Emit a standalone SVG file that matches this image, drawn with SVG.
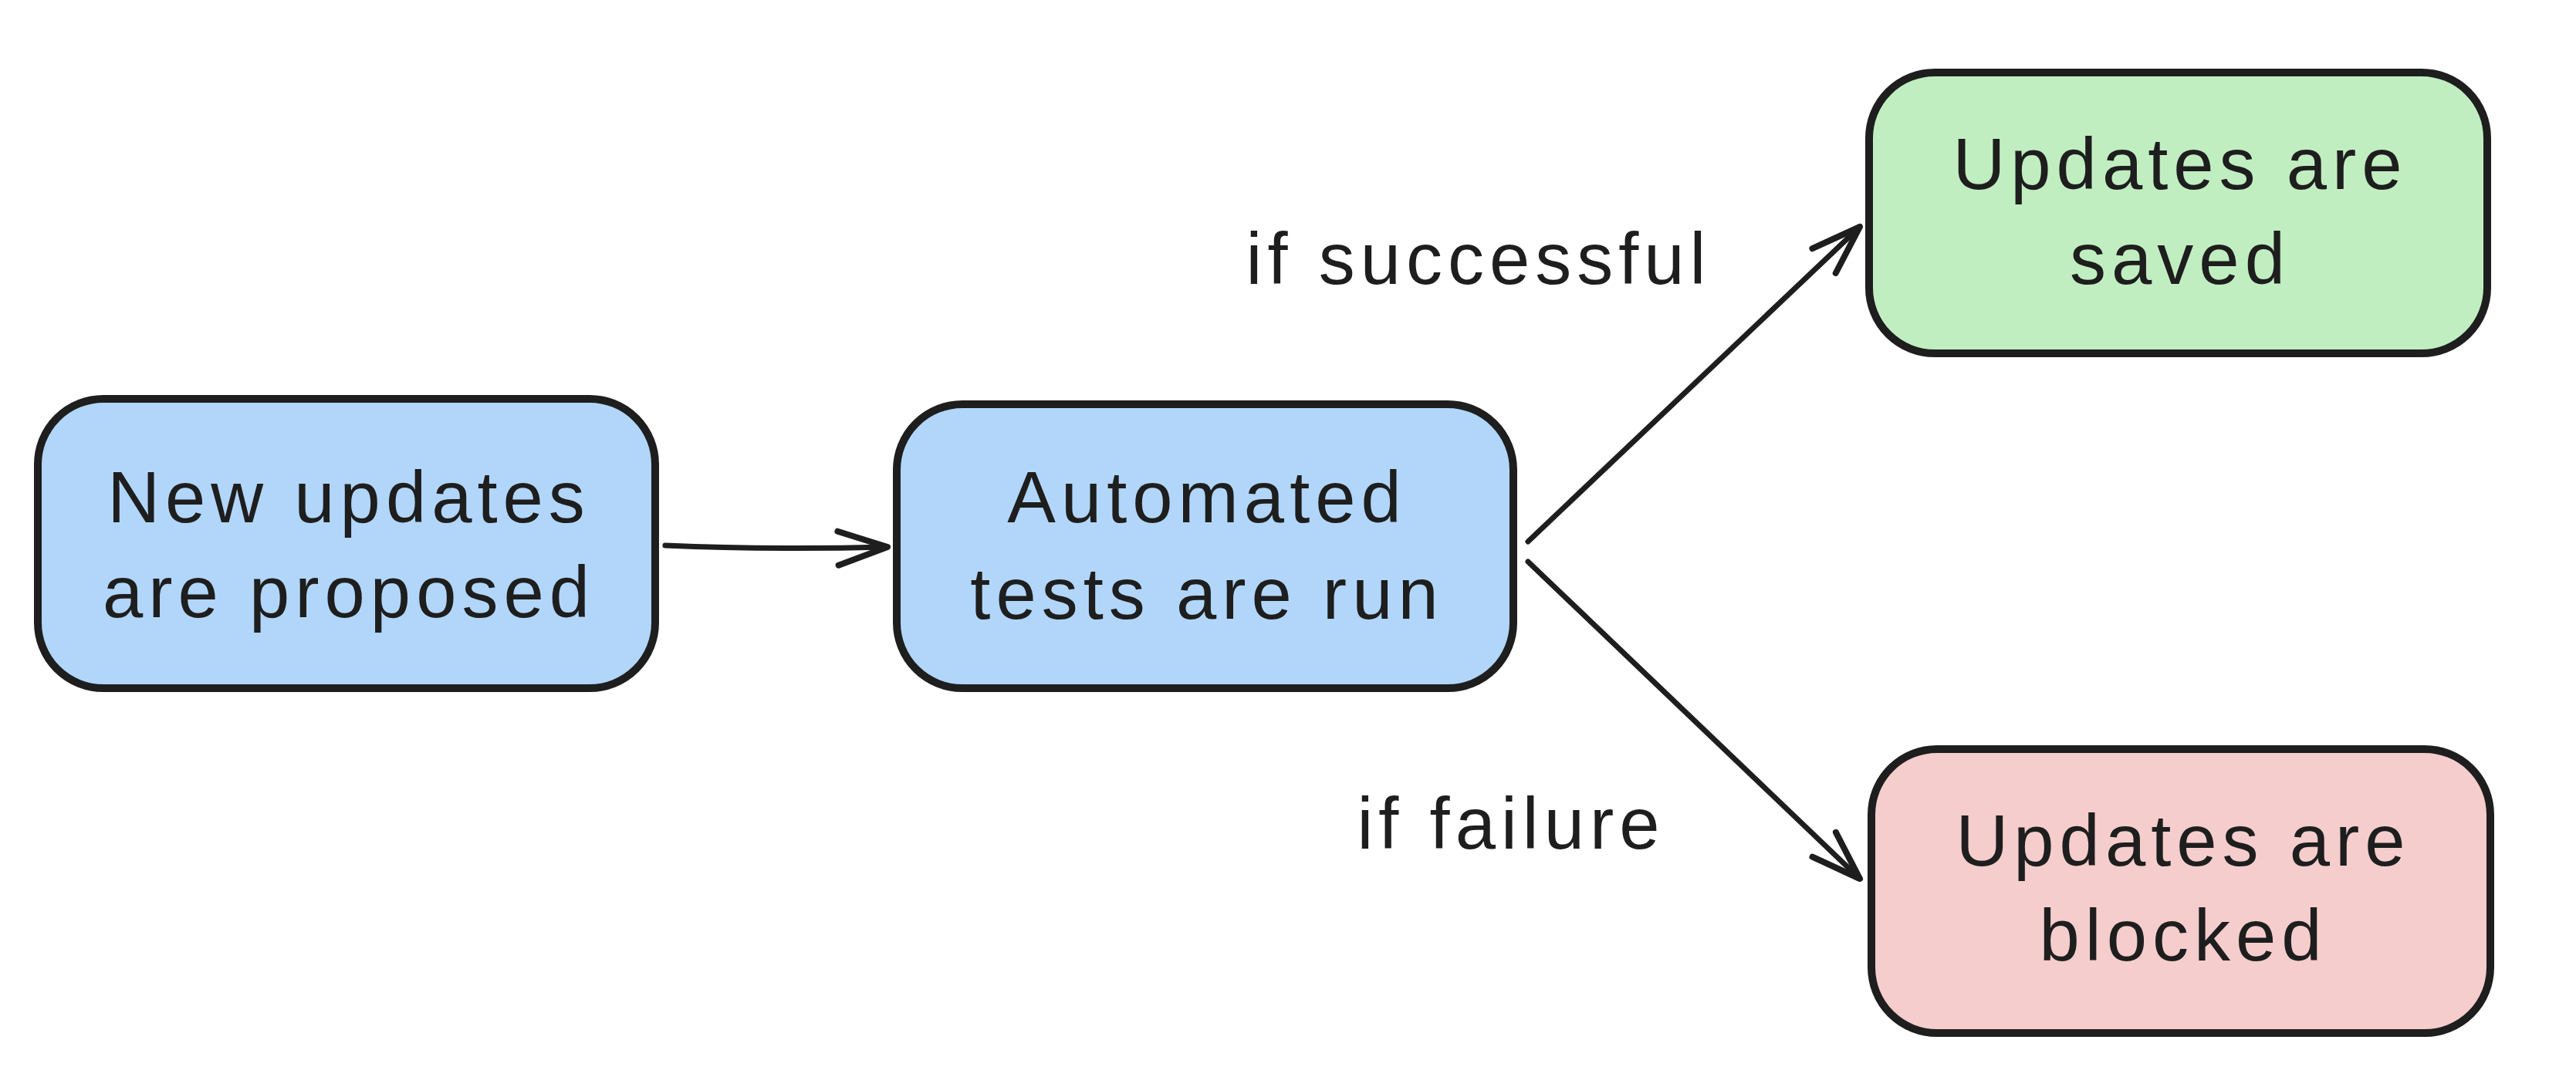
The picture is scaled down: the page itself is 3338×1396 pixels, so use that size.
<svg xmlns="http://www.w3.org/2000/svg" width="3338" height="1396" viewBox="0 0 3338 1396">
<style>
.box{stroke:#1e1e1e;stroke-width:10;stroke-linejoin:round}
.blue{fill:#b1d6fa}
.green{fill:#c1eec1}
.red{fill:#f4cdcc}
.t{font-family:"Liberation Sans",Arial,sans-serif;font-size:94px;letter-spacing:7px;fill:#1e1e1e;text-anchor:middle}
.edge{fill:none;stroke:#1e1e1e;stroke-width:7;stroke-linecap:round}
</style>
<defs>
<marker id="ah" markerUnits="userSpaceOnUse" viewBox="-5 -5 76 58" markerWidth="76" markerHeight="58" refX="64" refY="24" orient="auto">
<path d="M0,2 L64,24 L0,46" fill="none" stroke="#1e1e1e" stroke-width="8" stroke-linecap="round" stroke-linejoin="round"/>
</marker>
</defs>
<rect width="3338" height="1396" fill="#ffffff"/>
<g id="edges">
<path class="edge" d="M862,707 Q1000,713 1150,709" marker-end="url(#ah)"/>
<path class="edge" d="M1980,702 L2410,294" marker-end="url(#ah)"/>
<path class="edge" d="M1980,728 L2410,1139" marker-end="url(#ah)"/>
<text class="t" x="1916" y="368">if successful</text>
<text class="t" x="1958" y="1100">if failure</text>
</g>
<g id="n1">
<rect class="box blue" x="49" y="517" width="800" height="375" rx="85"/>
<text class="t" x="452" y="677">New updates</text>
<text class="t" x="452" y="800">are proposed</text>
</g>
<g id="n2">
<rect class="box blue" x="1162" y="524" width="799" height="368" rx="85"/>
<text class="t" x="1564" y="677">Automated</text>
<text class="t" x="1564" y="802">tests are run</text>
</g>
<g id="n3">
<rect class="box green" x="2422" y="94" width="801" height="364" rx="85"/>
<text class="t" x="2825" y="245">Updates are</text>
<text class="t" x="2825" y="368">saved</text>
</g>
<g id="n4">
<rect class="box red" x="2425" y="971" width="802" height="368" rx="85"/>
<text class="t" x="2829" y="1122">Updates are</text>
<text class="t" x="2829" y="1245">blocked</text>
</g>
</svg>
